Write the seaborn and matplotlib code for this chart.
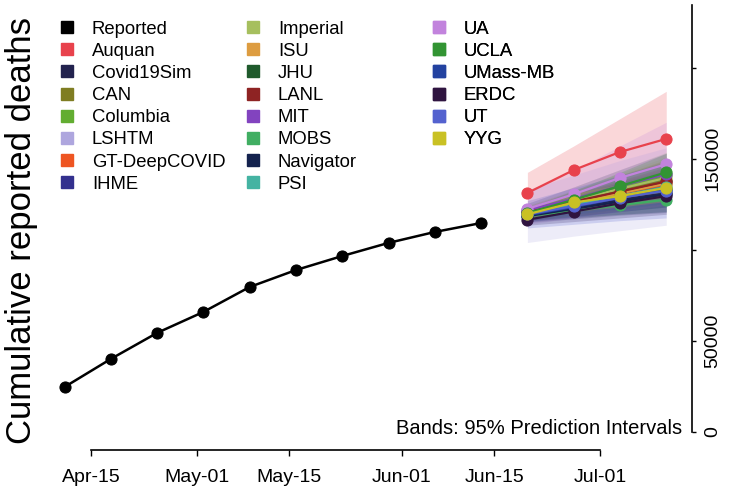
import numpy as np
import pandas as pd
import matplotlib
matplotlib.use("Agg")
import matplotlib.pyplot as plt
import matplotlib.dates as mdates
from matplotlib.lines import Line2D
import seaborn as sns

# weekly cumulative reported deaths
reported_dates = pd.to_datetime(["2020-04-11", "2020-04-18", "2020-04-25", "2020-05-02", "2020-05-09",
                                 "2020-05-16", "2020-05-23", "2020-05-30", "2020-06-06", "2020-06-13"])
reported_deaths = [24700, 40100, 54400, 65900, 79600, 88900, 96600, 103800, 109800, 114700]

forecast_dates = pd.to_datetime(["2020-06-20", "2020-06-27", "2020-07-04", "2020-07-11"])

models = ["Auquan", "Covid19Sim", "CAN", "Columbia", "LSHTM", "GT-DeepCOVID", "IHME",
          "Imperial", "ISU", "JHU", "LANL", "MIT", "MOBS", "Navigator", "PSI",
          "UA", "UCLA", "UMass-MB", "ERDC", "UT", "YYG"]
model_colors = ["#e8424c", "#22224e", "#7f7d22", "#62ad31", "#aea6de", "#ee5522", "#33308e",
                "#a6bf5e", "#dd9c40", "#1f5a2c", "#8e2323", "#8243bf", "#40ae62", "#14224e",
                "#44b3a2", "#c283dd", "#329433", "#2342a0", "#2f1440", "#5462cf", "#c9c124"]

# point forecasts per target week (same order as models)
median_wk1 = [131200, 119000, 120500, 121500, 119500, 120300, 119800, 121000, 120000, 119500, 120800,
              121800, 118500, 118500, 119800, 122500, 120200, 119000, 116500, 119500, 119500]
median_wk2 = [143800, 123500, 126500, 128000, 124500, 125500, 125500, 127000, 125500, 124000, 126500,
              128000, 121500, 122500, 124500, 130500, 127500, 123500, 121000, 124000, 126000]
median_wk3 = [153700, 127500, 132500, 134500, 129500, 131000, 131500, 133500, 131000, 129000, 132000,
              135000, 124500, 126500, 129500, 139500, 135000, 128500, 125500, 128500, 129500]
median_wk4 = [160900, 131000, 138000, 141000, 134000, 136000, 137000, 139500, 136500, 133500, 137500,
              141500, 127500, 130500, 134500, 147000, 142500, 133000, 129500, 132500, 134000]

# 95% prediction interval bounds
lower_wk1 = [121000, 115500, 117000, 117500, 104000, 117000, 116500, 117500, 116000, 116000, 118500,
             118000, 116500, 115000, 116500, 114000, 117500, 115500, 113500, 112000, 117000]
lower_wk2 = [127000, 117500, 120500, 121500, 107500, 120500, 119500, 121000, 118500, 118500, 122500,
             122000, 118000, 117000, 119500, 117500, 122500, 118000, 115500, 114000, 121000]
lower_wk3 = [132000, 119500, 124000, 125000, 110500, 124000, 122500, 125000, 121500, 121000, 126000,
             126000, 119500, 119000, 122500, 121000, 127500, 121000, 117500, 116000, 123500]
lower_wk4 = [137000, 121000, 127000, 128500, 113500, 127500, 125500, 128500, 124000, 123500, 129500,
             130000, 121000, 120500, 125500, 124500, 132000, 123500, 119500, 117500, 126500]
upper_wk1 = [142500, 122500, 124000, 125500, 133000, 123500, 123000, 124500, 124000, 123000, 123000,
             125500, 120500, 122000, 123000, 131500, 123000, 122500, 119500, 127000, 122500]
upper_wk2 = [157000, 129500, 132500, 134500, 141000, 130500, 131500, 133000, 132500, 129500, 130500,
             134500, 125000, 128000, 129500, 143500, 132500, 129000, 126500, 134000, 131000]
upper_wk3 = [172000, 136000, 141000, 144000, 149000, 137500, 140500, 142000, 141000, 137000, 138000,
             144000, 129500, 134000, 136500, 157000, 142500, 136000, 133500, 141000, 136000]
upper_wk4 = [187000, 142000, 149500, 153500, 156000, 144500, 149000, 151000, 149500, 143500, 145500,
             153000, 134000, 140500, 143500, 170000, 153000, 142500, 140000, 148000, 142000]

x_tick_dates = pd.to_datetime(["2020-04-15", "2020-05-01", "2020-05-15", "2020-06-01", "2020-06-15", "2020-07-01"])
x_tick_labels = ["Apr-15", "May-01", "May-15", "Jun-01", "Jun-15", "Jul-01"]
y_ticks = [0, 50000, 100000, 150000, 200000]
y_tick_labels = ["0", "50000", "", "150000", ""]

# long table for seaborn
med = np.column_stack([median_wk1, median_wk2, median_wk3, median_wk4])
lo = np.column_stack([lower_wk1, lower_wk2, lower_wk3, lower_wk4])
hi = np.column_stack([upper_wk1, upper_wk2, upper_wk3, upper_wk4])
fc = pd.DataFrame({
    "model": np.repeat(models, len(forecast_dates)),
    "date": np.tile(forecast_dates, len(models)),
    "deaths": med.ravel(),
})
palette = dict(zip(models, model_colors))

sns.set_style("white")
plt.rcParams["font.family"] = ["Liberation Sans", "DejaVu Sans"]
plt.rcParams["text.color"] = "black"

fig = plt.figure(figsize=(7.32, 4.93), dpi=100)
ax = fig.add_axes([0.0751, 0.0872, 0.8703, 0.9027])

# prediction bands
for i, m in enumerate(models):
    ax.fill_between(forecast_dates, lo[i], hi[i], color=model_colors[i], alpha=0.21, lw=0)

sns.lineplot(data=fc, x="date", y="deaths", hue="model", palette=palette, hue_order=models,
             marker="o", markersize=8, linewidth=1.6, markeredgecolor="auto",
             legend=False, ax=ax)
sns.lineplot(x=reported_dates, y=reported_deaths, color="black", marker="o", markersize=8,
             linewidth=1.8, markeredgecolor="auto", ax=ax)

# axes in the R base-graphics style
t0 = pd.Timestamp("2020-04-15")
ax.set_xlim(t0 - pd.Timedelta(days=5.45), t0 + pd.Timedelta(days=90.9))
ax.set_ylim(-9900, 234400)
ax.set_xticks(x_tick_dates)
ax.set_xticklabels(x_tick_labels)
ax.yaxis.tick_right()
ax.set_yticks(y_ticks)
ax.set_yticklabels(y_tick_labels, rotation=90, va="center")
for s in ["left", "top"]:
    ax.spines[s].set_visible(False)
ax.spines["bottom"].set_bounds(mdates.date2num(x_tick_dates[0]), mdates.date2num(x_tick_dates[-1]))
ax.spines["right"].set_bounds(0, 234400)
for s in ["bottom", "right"]:
    ax.spines[s].set_color("black")
    ax.spines[s].set_linewidth(1.2)
ax.tick_params(axis="x", length=4, width=1, pad=10, labelsize=14, colors="black", bottom=True)
ax.tick_params(axis="y", length=3, width=1, pad=6, labelsize=14, colors="black", right=True)
ax.set_xlabel("")
ax.set_ylabel("")
ax.grid(False)

fig.text(22 / 732, 1 - 231 / 493, "Cumulative reported deaths", rotation=90,
         ha="center", va="center", fontsize=25, color="black")
ax.text(682 / 732, 1 - 428 / 493, "Bands: 95% Prediction Intervals", transform=fig.transFigure,
        ha="right", va="center", fontsize=14.5, color="black")

# legend: three columns, each column its own legend
names = ["Reported"] + models
cols = ["black"] + model_colors
handles = [Line2D([], [], marker="s", linestyle="none", markersize=9, color=c) for c in cols]
col_x = [57.8, 243.8, 429.8]
splits = [(0, 8), (8, 16), (16, 22)]
for x0, (a, b) in zip(col_x, splits):
    leg = ax.legend(handles[a:b], names[a:b], loc="upper left",
                    bbox_to_anchor=(x0 / 732, 1 - 20.5 / 493), bbox_transform=fig.transFigure,
                    frameon=False, fontsize=13.3, borderpad=0, borderaxespad=0,
                    handlelength=1.0, handletextpad=0.85, labelspacing=0.28,
                    labelcolor="black")
    ax.add_artist(leg)

fig.savefig("out.png", dpi=100)
